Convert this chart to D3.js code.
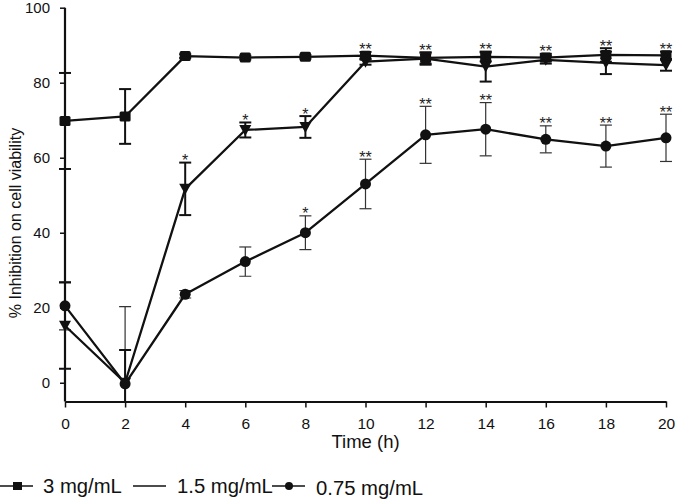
<!DOCTYPE html>
<html>
<head>
<meta charset="utf-8">
<script src="https://cdn.jsdelivr.net/npm/d3@7/dist/d3.min.js"></script>
<style>
  html, body { margin: 0; padding: 0; background: #fff; }
  svg { display: block; font-family: "Liberation Sans", Arial, sans-serif; }
</style>
</head>
<body>
<svg id="chart" width="676" height="502"></svg>
<script>
// ---- data ----
const times = [0, 2, 4, 6, 8, 10, 12, 14, 16, 18, 20];
const seriesNames = ["3 mg/mL", "1.5 mg/mL", "0.75 mg/mL"];
const mean3 = [69.8, 71.0, 87.1, 86.7, 86.9, 87.2, 86.6, 86.9, 86.7, 87.4, 87.3];
const err3 = [12.8, 7.3, 0.5, 0.5, 0.5, 1.0, 1.5, 1.2, 1.0, 1.8, 1.0];
const mean15 = [15.2, 0.0, 51.7, 67.4, 68.2, 85.6, 86.4, 84.3, 86.1, 85.3, 84.7];
const err15 = [11.5, 8.7, 7.0, 2.0, 2.9, 0.8, 1.6, 4.0, 1.0, 3.0, 1.5];
const mean075 = [20.5, -0.3, 23.6, 32.3, 40.0, 53.0, 66.1, 67.6, 64.9, 63.1, 65.3];
const err075 = [6.4, 20.6, 1.0, 3.9, 4.5, 6.6, 7.6, 7.1, 3.6, 5.6, 6.3];
const xTicks = [0, 2, 4, 6, 8, 10, 12, 14, 16, 18, 20];
const yTicks = [0, 20, 40, 60, 80, 100];
// significance marks: time, label, anchor group
const starTimes = [4, 6, 8, 8, 10, 10, 12, 12, 14, 14, 16, 16, 18, 18, 20, 20];
const starLabels = ["*", "*", "*", "*", "**", "**", "**", "**", "**", "**", "**", "**", "**", "**", "**", "**"];
const starAnchors = ["1.5", "1.5", "1.5", "0.75", "top", "0.75", "top", "0.75", "top", "0.75", "top", "0.75", "top", "0.75", "top", "0.75"];

// ---- scales ----
const svg = d3.select("#chart");
const x = d3.scaleLinear().domain([0, 20]).range([65, 666]);
const y = d3.scaleLinear().domain([-5, 100]).range([401.5, 7.7]);

const ink = "#111";
const FONT = "Liberation Sans, Arial, sans-serif";

// clip for plot region
svg.append("defs").append("clipPath").attr("id", "plotclip")
  .append("rect").attr("x", 0).attr("y", 0).attr("width", 676).attr("height", y(-5));

// ---- axes ----
const xAxis = d3.axisBottom(x).tickValues(xTicks).tickSize(6).tickPadding(10).tickSizeOuter(0);
const gx = svg.append("g").attr("transform", `translate(0,${y(-5)})`).call(xAxis);
gx.select(".domain").attr("stroke", ink).attr("stroke-width", 2.2);
gx.selectAll(".tick line").attr("stroke", ink).attr("stroke-width", 1.5);
gx.selectAll(".tick text").attr("fill", ink).style("font-size", "15.5px").style("font-family", FONT);

const yAxis = d3.axisLeft(y).tickValues(yTicks).tickSize(5).tickPadding(10).tickSizeOuter(0);
const gy = svg.append("g").attr("transform", `translate(${x(0)},0)`).call(yAxis);
gy.select(".domain").attr("stroke", ink).attr("stroke-width", 2.2).attr("d", `M0,${y(100)}V${y(-5)}`);
gy.selectAll(".tick line").attr("stroke", ink).attr("stroke-width", 1.5);
gy.selectAll(".tick text").attr("fill", ink).style("font-size", "15px").style("font-family", FONT);

// axis titles
svg.append("text").attr("x", (x(0) + x(20)) / 2).attr("y", 448)
  .attr("text-anchor", "middle").attr("fill", ink).style("font-size", "18.5px").text("Time (h)");
svg.append("text").attr("transform", "translate(21,223) rotate(-90)")
  .attr("text-anchor", "middle").attr("fill", ink).style("font-size", "16px")
  .text("% Inhibition on cell viability");

// ---- series ----
const series = [
  { key: "0.75", mean: mean075, err: err075, marker: "circle", ebw: 1.2, ebc: "#333" },
  { key: "1.5", mean: mean15, err: err15, marker: "triangle", ebw: 2, ebc: ink },
  { key: "3", mean: mean3, err: err3, marker: "square", ebw: 2, ebc: ink }
];

const plot = svg.append("g").attr("clip-path", "url(#plotclip)");
const line = d3.line().x((d, i) => x(times[i])).y(d => y(d));

const capHalf = 6;
series.forEach(s => {
  const g = plot.append("g");
  // error bars
  times.forEach((t, i) => {
    const cx = x(t), y1 = y(s.mean[i] + s.err[i]), y2 = y(s.mean[i] - s.err[i]);
    g.append("line").attr("x1", cx).attr("x2", cx).attr("y1", y1).attr("y2", y2)
      .attr("stroke", s.ebc).attr("stroke-width", s.ebw);
    [y1, y2].forEach(yy => g.append("line").attr("x1", cx - capHalf).attr("x2", cx + capHalf)
      .attr("y1", yy).attr("y2", yy).attr("stroke", s.ebc).attr("stroke-width", s.ebw));
  });
  // line
  g.append("path").datum(s.mean).attr("d", line).attr("fill", "none")
    .attr("stroke", ink).attr("stroke-width", 2.3).attr("stroke-linejoin", "round");
  // markers
  s.mean.forEach((v, i) => {
    const cx = x(times[i]), cy = y(v);
    if (s.marker === "circle") {
      g.append("circle").attr("cx", cx).attr("cy", cy).attr("r", 5.5).attr("fill", ink);
    } else if (s.marker === "square") {
      g.append("rect").attr("x", cx - 5.5).attr("y", cy - 5).attr("width", 11).attr("height", 10)
        .attr("rx", 1.5).attr("fill", ink);
    } else {
      g.append("path").attr("d", `M${cx - 6},${cy - 5}L${cx + 6},${cy - 5}L${cx},${cy + 6}Z`).attr("fill", ink);
    }
  });
});

// ---- significance stars ----
function upperCap(anchor, i) {
  if (anchor === "top") return Math.max(mean3[i] + err3[i], mean15[i] + err15[i]);
  if (anchor === "1.5") return mean15[i] + err15[i];
  return mean075[i] + err075[i];
}
starTimes.forEach((t, k) => {
  const i = times.indexOf(t);
  svg.append("text").attr("x", x(t)).attr("y", y(upperCap(starAnchors[k], i)) + 3.5)
    .attr("text-anchor", "middle").attr("fill", "#222").style("font-size", "16px")
    .text(starLabels[k]);
});

// ---- legend ----
const lg = svg.append("g");
const legY = 486;
const legFont = "20.3px";
// 3 mg/mL
lg.append("line").attr("x1", 0).attr("x2", 33).attr("y1", legY).attr("y2", legY).attr("stroke", ink).attr("stroke-width", 1.3);
lg.append("rect").attr("x", 13).attr("y", legY - 4).attr("width", 9).attr("height", 8).attr("fill", ink);
lg.append("text").attr("x", 43).attr("y", legY + 7).attr("fill", ink).style("font-size", legFont).text(seriesNames[0]);
// 1.5 mg/mL
lg.append("line").attr("x1", 133).attr("x2", 166).attr("y1", legY).attr("y2", legY).attr("stroke", ink).attr("stroke-width", 1.3);
lg.append("text").attr("x", 177).attr("y", legY + 7).attr("fill", ink).style("font-size", legFont).text(seriesNames[1]);
// 0.75 mg/mL
lg.append("line").attr("x1", 272).attr("x2", 305).attr("y1", legY).attr("y2", legY).attr("stroke", ink).attr("stroke-width", 1.3);
lg.append("circle").attr("cx", 289).attr("cy", legY).attr("r", 4).attr("fill", ink);
lg.append("text").attr("x", 316).attr("y", legY + 9).attr("fill", ink).style("font-size", legFont).text(seriesNames[2]);
</script>
</body>
</html>
